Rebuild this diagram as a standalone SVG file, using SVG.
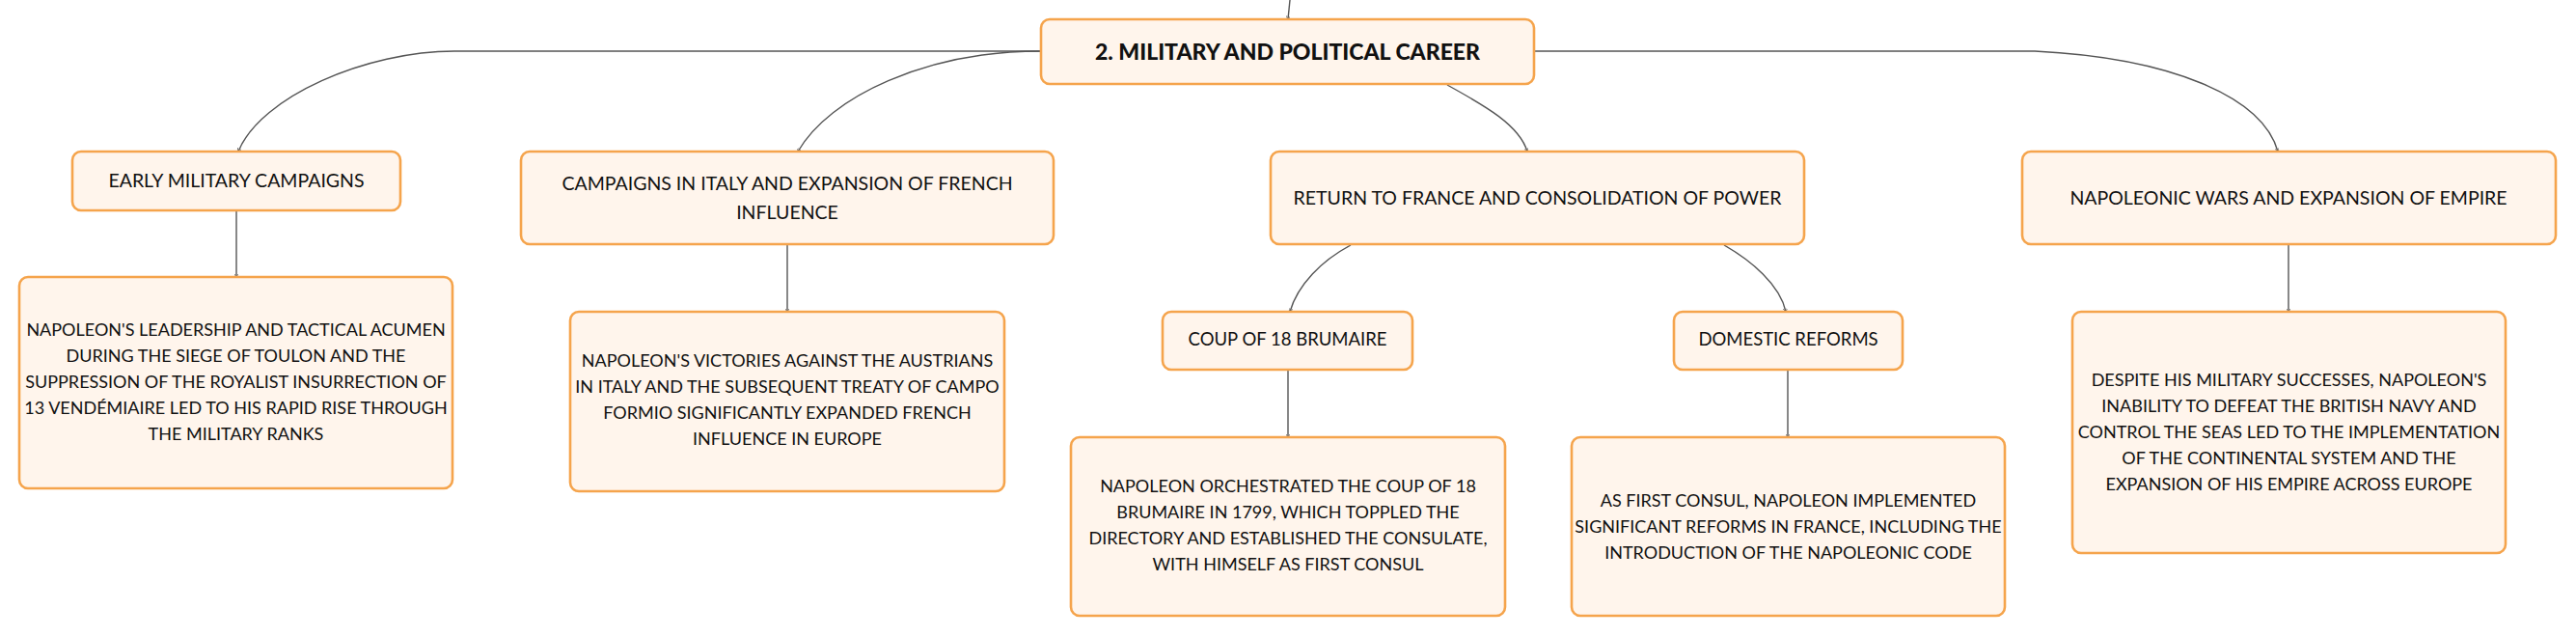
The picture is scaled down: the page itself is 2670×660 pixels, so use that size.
<svg xmlns="http://www.w3.org/2000/svg" width="2670" height="660" viewBox="0 0 2670 660">
<defs>
<style>
.box{fill:#fff5ec;stroke:#f5a44c;stroke-width:2.6}
.t{font-family:Lato,"Open Sans","Liberation Sans",sans-serif;font-size:18px;fill:#111;text-anchor:middle}
.l1{font-size:19.5px}
.l2{font-size:18.5px}
.b{font-weight:900;font-size:23px}
.c{fill:none;stroke:#555;stroke-width:1.4}
</style>
<marker id="ah" viewBox="0 0 6 6" refX="5" refY="3" markerWidth="3" markerHeight="3" orient="auto">
<path d="M0,0 L6,3 L0,6" fill="none" stroke="#555" stroke-width="1"/>
</marker>
</defs>
<rect width="2670" height="660" fill="#ffffff"/>
<g id="connectors">
<path class="c" d="M1337 0 L1335 20" marker-end="url(#ah)"/>
<path class="c" d="M1079 53 H471 C380 53 270 100 247 157" marker-end="url(#ah)"/>
<path class="c" d="M1079 53 C960 53 860 100 827 157" marker-end="url(#ah)"/>
<path class="c" d="M1500 88 C1540 110 1575 130 1583 157" marker-end="url(#ah)"/>
<path class="c" d="M1590 53 H2109 C2250 60 2345 100 2361 157" marker-end="url(#ah)"/>
<path class="c" d="M245 218 V287" marker-end="url(#ah)"/>
<path class="c" d="M816 253 V323" marker-end="url(#ah)"/>
<path class="c" d="M2372 253 V323" marker-end="url(#ah)"/>
<path class="c" d="M1400 254 C1370 270 1345 295 1337 323" marker-end="url(#ah)"/>
<path class="c" d="M1787 254 C1815 270 1845 295 1851 323" marker-end="url(#ah)"/>
<path class="c" d="M1335 383 V453" marker-end="url(#ah)"/>
<path class="c" d="M1853 383 V453" marker-end="url(#ah)"/>
</g>
<g id="root">
<rect class="box" x="1079" y="20" width="511" height="67" rx="9"/>
<text class="t b" x="1334.5" y="62">2. MILITARY AND POLITICAL CAREER</text>
</g>
<g id="early">
<rect class="box" x="75" y="157" width="340" height="61" rx="9"/>
<text class="t l1" x="245" y="194">EARLY MILITARY CAMPAIGNS</text>
</g>
<g id="italy">
<rect class="box" x="540" y="157" width="552" height="96" rx="9"/>
<text class="t l1" x="816" y="197">CAMPAIGNS IN ITALY AND EXPANSION OF FRENCH</text>
<text class="t l1" x="816" y="227">INFLUENCE</text>
</g>
<g id="return">
<rect class="box" x="1317" y="157" width="553" height="96" rx="9"/>
<text class="t l1" x="1593.5" y="212">RETURN TO FRANCE AND CONSOLIDATION OF POWER</text>
</g>
<g id="wars">
<rect class="box" x="2096" y="157" width="553" height="96" rx="9"/>
<text class="t l1" x="2372" y="212">NAPOLEONIC WARS AND EXPANSION OF EMPIRE</text>
</g>
<g id="early-detail">
<rect class="box" x="20" y="287" width="449" height="219" rx="9"/>
<text class="t" x="244.5" y="348">NAPOLEON'S LEADERSHIP AND TACTICAL ACUMEN</text>
<text class="t" x="244.5" y="375">DURING THE SIEGE OF TOULON AND THE</text>
<text class="t" x="244.5" y="402">SUPPRESSION OF THE ROYALIST INSURRECTION OF</text>
<text class="t" x="244.5" y="429">13 VENDÉMIAIRE LED TO HIS RAPID RISE THROUGH</text>
<text class="t" x="244.5" y="456">THE MILITARY RANKS</text>
</g>
<g id="italy-detail">
<rect class="box" x="591" y="323" width="450" height="186" rx="9"/>
<text class="t" x="816" y="380">NAPOLEON'S VICTORIES AGAINST THE AUSTRIANS</text>
<text class="t" x="816" y="407">IN ITALY AND THE SUBSEQUENT TREATY OF CAMPO</text>
<text class="t" x="816" y="434">FORMIO SIGNIFICANTLY EXPANDED FRENCH</text>
<text class="t" x="816" y="461">INFLUENCE IN EUROPE</text>
</g>
<g id="coup">
<rect class="box" x="1205" y="323" width="259" height="60" rx="9"/>
<text class="t l2" x="1334.5" y="358">COUP OF 18 BRUMAIRE</text>
</g>
<g id="domestic">
<rect class="box" x="1735" y="323" width="237" height="60" rx="9"/>
<text class="t l2" x="1853.5" y="358">DOMESTIC REFORMS</text>
</g>
<g id="coup-detail">
<rect class="box" x="1110" y="453" width="450" height="185" rx="9"/>
<text class="t" x="1335" y="510">NAPOLEON ORCHESTRATED THE COUP OF 18</text>
<text class="t" x="1335" y="537">BRUMAIRE IN 1799, WHICH TOPPLED THE</text>
<text class="t" x="1335" y="564">DIRECTORY AND ESTABLISHED THE CONSULATE,</text>
<text class="t" x="1335" y="591">WITH HIMSELF AS FIRST CONSUL</text>
</g>
<g id="domestic-detail">
<rect class="box" x="1629" y="453" width="449" height="185" rx="9"/>
<text class="t" x="1853.5" y="525">AS FIRST CONSUL, NAPOLEON IMPLEMENTED</text>
<text class="t" x="1853.5" y="552">SIGNIFICANT REFORMS IN FRANCE, INCLUDING THE</text>
<text class="t" x="1853.5" y="579">INTRODUCTION OF THE NAPOLEONIC CODE</text>
</g>
<g id="wars-detail">
<rect class="box" x="2148" y="323" width="449" height="250" rx="9"/>
<text class="t" x="2372.5" y="400">DESPITE HIS MILITARY SUCCESSES, NAPOLEON'S</text>
<text class="t" x="2372.5" y="427">INABILITY TO DEFEAT THE BRITISH NAVY AND</text>
<text class="t" x="2372.5" y="454">CONTROL THE SEAS LED TO THE IMPLEMENTATION</text>
<text class="t" x="2372.5" y="481">OF THE CONTINENTAL SYSTEM AND THE</text>
<text class="t" x="2372.5" y="508">EXPANSION OF HIS EMPIRE ACROSS EUROPE</text>
</g>
</svg>
